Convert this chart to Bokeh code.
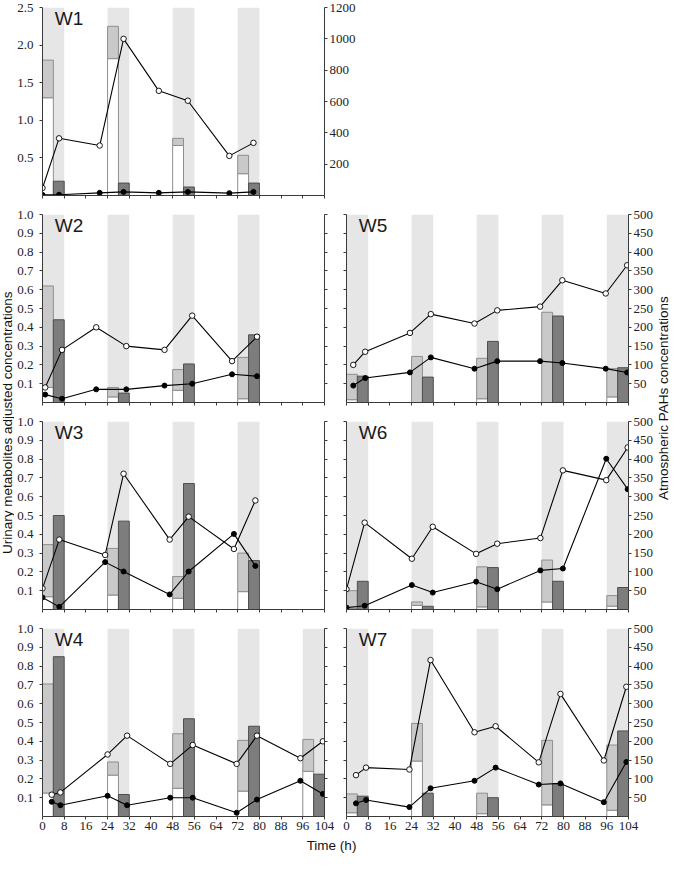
import numpy as np
from bokeh.plotting import figure
from bokeh.models import Range1d, LinearAxis, FixedTicker, Label, NumeralTickFormatter, CustomJSTickFormatter
from bokeh.layouts import row, column
from bokeh.embed import file_html
from bokeh.resources import INLINE

# ---------------- data ----------------
x_ticks = [0, 8, 16, 24, 32, 40, 48, 56, 64, 72, 80, 88, 96, 104]
shift_len = 8  # working-shift length (h), each shaded band

# W1
w1_bands = [0, 24, 48, 72]
w1_white = [1.30, 1.82, 0.665, 0.29]
w1_gray = [1.80, 2.25, 0.76, 0.535]
w1_dark = [0.19, 0.165, 0.113, 0.165]
w1_time = [0, 6.1, 21.1, 29.9, 42.9, 53.6, 68.9, 77.8]
w1_open = [48, 365, 319, 1000, 668, 605, 253, 336]
w1_closed = [4, 5, 17, 23, 17, 23, 15, 23]

# W2
w2_bands = [0, 24, 48, 72]
w2_white = [0.08, 0.03, 0.065, 0.02]
w2_gray = [0.62, 0.08, 0.175, 0.24]
w2_dark = [0.44, 0.05, 0.205, 0.36]
w2_time = [1.0, 7.2, 19.8, 30.9, 45.0, 55.2, 69.9, 79.1]
w2_open = [40, 140, 200, 150, 140, 231, 110, 175]
w2_closed = [21, 10, 35, 35, 45, 50, 75, 70]

# W3
w3_bands = [0, 24, 48, 72]
w3_white = [0.068, 0.077, 0.06, 0.095]
w3_gray = [0.345, 0.325, 0.175, 0.30]
w3_dark = [0.50, 0.47, 0.67, 0.26]
w3_time = [0, 6.2, 23.1, 29.9, 46.9, 53.9, 70.6, 78.5]
w3_open = [56, 186, 145, 361, 186, 247, 161, 290]
w3_closed = [32, 7, 126, 101, 40, 101, 201, 116]

# W4
w4_bands = [0, 24, 48, 72, 96]
w4_white = [0.125, 0.22, 0.15, 0.135, 0.24]
w4_gray = [0.705, 0.29, 0.44, 0.405, 0.41]
w4_dark = [0.85, 0.117, 0.52, 0.48, 0.225]
w4_time = [3.4, 6.6, 24.0, 31.2, 47.1, 55.4, 71.6, 79.1, 95.1, 103.4]
w4_open = [58, 64, 165, 215, 140, 190, 140, 215, 155, 200]
w4_closed = [39, 30, 55, 30, 50, 50, 10, 45, 95, 60]

# W5
w5_bands = [0, 24, 48, 72, 96]
w5_white = [0.015, 0.0, 0.02, 0.0, 0.03]
w5_gray = [0.15, 0.245, 0.235, 0.48, 0.18]
w5_dark = [0.14, 0.135, 0.325, 0.46, 0.185]
w5_time = [2.5, 6.9, 23.4, 31.1, 47.2, 55.6, 71.4, 79.6, 95.6, 103.5]
w5_open = [100, 135, 185, 235, 210, 245, 255, 325, 290, 365]
w5_closed = [45, 65, 80, 120, 90, 110, 110, 105, 90, 80]

# W6
w6_bands = [0, 24, 48, 72, 96]
w6_white = [0.005, 0.022, 0.014, 0.04, 0.018]
w6_gray = [0.10, 0.04, 0.227, 0.263, 0.074]
w6_dark = [0.15, 0.017, 0.223, 0.15, 0.117]
w6_time = [0, 6.7, 24.1, 31.8, 47.8, 55.6, 71.5, 79.8, 95.8, 103.7]
w6_open = [54, 231, 135, 220, 148, 175, 190, 370, 344, 431]
w6_closed = [5, 10, 65, 45, 74, 54, 104, 109, 401, 320]

# W7
w7_bands = [0, 24, 48, 72, 96]
w7_white = [0.02, 0.295, 0.015, 0.062, 0.033]
w7_gray = [0.12, 0.495, 0.124, 0.405, 0.38]
w7_dark = [0.108, 0.124, 0.10, 0.175, 0.455]
w7_time = [3.5, 7.2, 23.2, 31.0, 47.2, 55.0, 70.9, 78.9, 94.9, 103.2]
w7_open = [110, 130, 125, 416, 224, 240, 144, 326, 149, 345]
w7_closed = [35, 44, 25, 75, 95, 130, 85, 88, 38, 145]

left_ticks_1 = [0.1, 0.2, 0.3, 0.4, 0.5, 0.6, 0.7, 0.8, 0.9, 1.0]
left_ticks_w1 = [0.5, 1.0, 1.5, 2.0, 2.5]
right_ticks_500 = [50, 100, 150, 200, 250, 300, 350, 400, 450, 500]
right_ticks_w1 = [200, 400, 600, 800, 1000, 1200]

# ---------------- style ----------------
TICK_FONT = "Liberation Serif"
SANS = "Liberation Sans"
AX_COL = "#3a3a3a"
BAND_COL = "#e6e6e6"
LIGHT_COL = "#c9c9c9"
LIGHT_LINE = "#8e8e8e"
DARK_COL = "#7d7d7d"
DARK_LINE = "#4e4e4e"
FRAME_H = 188
FRAME_W = 284
TOP = 7

blank = CustomJSTickFormatter(code="return ''")


def style_axis(ax, show, standoff):
    ax.axis_line_color = AX_COL
    ax.major_tick_line_color = AX_COL
    ax.minor_tick_line_color = None
    ax.major_tick_in = 0
    ax.major_tick_out = 3
    ax.major_label_standoff = standoff
    ax.major_label_text_font = TICK_FONT
    ax.major_label_text_color = "#222222"
    if show:
        ax.major_label_text_font_size = "13px"
    else:
        ax.major_label_text_font_size = "0px"
        ax.formatter = CustomJSTickFormatter(code="return ''")


def make_panel(name, bands, white, gray, dark, times, pah_open, pah_closed,
               ymax, yticks, rmax, rticks, bl, br, bb,
               show_left, show_right, show_x):
    width = bl + FRAME_W + br
    height = TOP + FRAME_H + bb
    p = figure(width=width, height=height, x_range=Range1d(0, 104),
               y_range=Range1d(0, ymax), output_backend="svg",
               toolbar_location=None, min_border_left=bl, min_border_right=br,
               min_border_top=TOP, min_border_bottom=bb)
    p.extra_y_ranges = {"pah": Range1d(0, rmax)}
    p.add_layout(LinearAxis(y_range_name="pah"), "right")
    p.grid.visible = False
    p.outline_line_color = None
    p.background_fill_color = "white"

    xa = p.below[0]
    xa.ticker = FixedTicker(ticks=x_ticks)
    style_axis(xa, show_x, 2)
    la = p.left[0]
    la.ticker = FixedTicker(ticks=yticks)
    style_axis(la, show_left, 6)
    if show_left:
        la.formatter = NumeralTickFormatter(format="0.0")
    ra = p.right[0]
    ra.ticker = FixedTicker(ticks=rticks)
    style_axis(ra, show_right, 2)
    if show_right:
        ra.formatter = NumeralTickFormatter(format="0")

    b = np.array(bands, dtype=float)
    # shaded working shifts
    p.quad(left=b, right=b + shift_len, bottom=0, top=ymax,
           fill_color=BAND_COL, line_color=None)
    # stacked first bar (white + light gray)
    p.quad(left=b, right=b + shift_len / 2, bottom=0, top=white,
           fill_color="white", line_color=LIGHT_LINE, line_width=1)
    p.quad(left=b, right=b + shift_len / 2, bottom=white, top=gray,
           fill_color=LIGHT_COL, line_color=LIGHT_LINE, line_width=1)
    # dark bar
    p.quad(left=b + shift_len / 2, right=b + shift_len, bottom=0, top=dark,
           fill_color=DARK_COL, line_color=DARK_LINE, line_width=1)

    # atmospheric series
    p.line(times, pah_closed, y_range_name="pah", line_color="black", line_width=1.1)
    p.scatter(times, pah_closed, y_range_name="pah", size=5,
              fill_color="black", line_color="black")
    p.line(times, pah_open, y_range_name="pah", line_color="black", line_width=1.1)
    p.scatter(times, pah_open, y_range_name="pah", size=5.5,
              fill_color="white", line_color="black", line_width=0.9)

    p.add_layout(Label(x=4.5, y=ymax, text=name, text_baseline="top",
                       text_font=SANS, text_font_size="19px", text_color="#1a1a1a"))
    return p


w1 = make_panel("W1", w1_bands, w1_white, w1_gray, w1_dark, w1_time, w1_open, w1_closed,
                2.5, left_ticks_w1, 1200, right_ticks_w1, 26, 36, 12, True, True, False)
w2 = make_panel("W2", w2_bands, w2_white, w2_gray, w2_dark, w2_time, w2_open, w2_closed,
                1.0, left_ticks_1, 500, right_ticks_500, 26, 10, 12, True, False, False)
w3 = make_panel("W3", w3_bands, w3_white, w3_gray, w3_dark, w3_time, w3_open, w3_closed,
                1.0, left_ticks_1, 500, right_ticks_500, 26, 10, 12, True, False, False)
w4 = make_panel("W4", w4_bands, w4_white, w4_gray, w4_dark, w4_time, w4_open, w4_closed,
                1.0, left_ticks_1, 500, right_ticks_500, 26, 10, 21, True, False, True)
w5 = make_panel("W5", w5_bands, w5_white, w5_gray, w5_dark, w5_time, w5_open, w5_closed,
                1.0, left_ticks_1, 500, right_ticks_500, 12, 26, 12, False, True, False)
w6 = make_panel("W6", w6_bands, w6_white, w6_gray, w6_dark, w6_time, w6_open, w6_closed,
                1.0, left_ticks_1, 500, right_ticks_500, 12, 26, 12, False, True, False)
w7 = make_panel("W7", w7_bands, w7_white, w7_gray, w7_dark, w7_time, w7_open, w7_closed,
                1.0, left_ticks_1, 500, right_ticks_500, 12, 26, 21, False, True, True)


def text_fig(width, height, text, x, y, angle=0.0):
    f = figure(width=width, height=height, x_range=Range1d(0, 1), y_range=Range1d(0, 1),
               output_backend="svg", toolbar_location=None, min_border=0,
               x_axis_location=None, y_axis_location=None)
    f.grid.visible = False
    f.outline_line_color = None
    f.add_layout(Label(x=x, y=y, text=text, angle=angle, text_align="center",
                       text_baseline="middle", text_font=SANS,
                       text_font_size="13.5px", text_color="#111111"))
    return f


TOTAL_H = 853
left_title = text_fig(14, TOTAL_H, "Urinary metabolites adjusted concentrations", 0.5, 0.505, np.pi / 2)
right_title = text_fig(13, TOTAL_H, "Atmospheric  PAHs concentrations", 0.5, 0.536, np.pi / 2)
time_label = text_fig(642, 16, "Time (h)", 0.5, 0.5)

grid = column(w1, row(w2, w5), row(w3, w6), row(w4, w7), time_label)
page = row(left_title, grid, right_title)

open("out.html", "w").write(file_html(page, INLINE))
